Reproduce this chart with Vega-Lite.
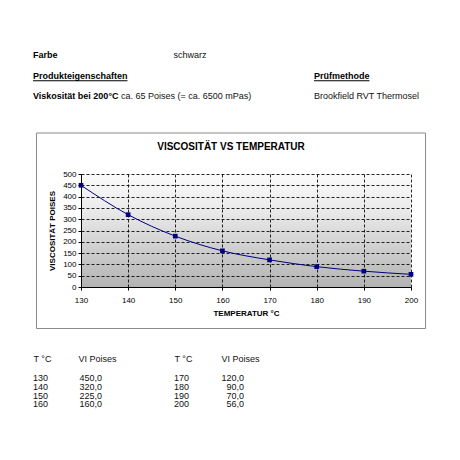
{
  "$schema": "https://vega.github.io/schema/vega-lite/v6.json",
  "background": "white",
  "padding": {"left": 32, "top": 45, "right": 5, "bottom": 5},
  "spacing": 25,
  "align": "none",
  "datasets": {
    "visko": [
      {"t": 130, "vi": 450},
      {"t": 140, "vi": 320},
      {"t": 150, "vi": 225},
      {"t": 160, "vi": 160},
      {"t": 170, "vi": 120},
      {"t": 180, "vi": 90},
      {"t": 190, "vi": 70},
      {"t": 200, "vi": 56}
    ]
  },
  "vconcat": [
    {
      "width": 330,
      "height": 61.5,
      "view": {"stroke": null},
      "encoding": {
        "x": {"field": "spalte", "type": "quantitative", "scale": {"domain": [0, 2], "range": [-48, 233]}, "axis": null},
        "y": {"field": "zeile", "type": "ordinal", "scale": {"type": "point", "domain": [1, 2, 3], "padding": 0.5}, "axis": null}
      },
      "layer": [
        {
          "data": {"values": [
            {"zeile": 1, "spalte": 0, "text": "Farbe"},
            {"zeile": 2, "spalte": 0, "text": "Produkteigenschaften"},
            {"zeile": 2, "spalte": 2, "text": "Prüfmethode"},
            {"zeile": 3, "spalte": 0, "text": "Viskosität bei 200°C"}
          ]},
          "mark": {"type": "text", "align": "left", "baseline": "middle", "fontSize": 9, "fontWeight": "bold", "color": "#000"},
          "encoding": {"text": {"field": "text"}}
        },
        {
          "data": {"values": [
            {"zeile": 1, "spalte": 1, "text": "schwarz"},
            {"zeile": 3, "spalte": 2, "text": "Brookfield RVT Thermosel"}
          ]},
          "mark": {"type": "text", "align": "left", "baseline": "middle", "fontSize": 9, "color": "#111"},
          "encoding": {"text": {"field": "text"}}
        },
        {
          "data": {"values": [
            {"zeile": 3, "spalte": 0, "text": "ca. 65 Poises (= ca. 6500 mPas)"}
          ]},
          "mark": {"type": "text", "align": "left", "baseline": "middle", "fontSize": 9, "color": "#111", "dx": 88},
          "encoding": {"text": {"field": "text"}}
        },
        {
          "data": {"values": [{"zeile": 2, "spalte": 0}]},
          "mark": {"type": "rule", "color": "#000", "strokeWidth": 1, "x2Offset": 94.5, "yOffset": 5},
          "encoding": {"x2": {"field": "spalte"}}
        },
        {
          "data": {"values": [{"zeile": 2, "spalte": 2}]},
          "mark": {"type": "rule", "color": "#000", "strokeWidth": 1, "x2Offset": 55.5, "yOffset": 5},
          "encoding": {"x2": {"field": "spalte"}}
        }
      ]
    },
    {
      "width": 330,
      "height": 113,
      "view": {
        "stroke": null,
        "fill": {
          "gradient": "linear",
          "x1": 0, "y1": 0, "x2": 0, "y2": 1,
          "stops": [
            {"offset": 0, "color": "#fafafa"},
            {"offset": 0.3, "color": "#ececec"},
            {"offset": 1, "color": "#b3b3b3"}
          ]
        }
      },
      "title": {
        "text": "VISCOSITÄT VS TEMPERATUR",
        "fontSize": 10,
        "fontWeight": "bold",
        "color": "#000",
        "anchor": "middle",
        "frame": "bounds",
        "baseline": "middle",
        "offset": -24
      },
      "data": {"name": "visko"},
      "encoding": {
        "x": {
          "field": "t",
          "type": "quantitative",
          "scale": {"domain": [130, 200], "nice": false, "zero": false},
          "axis": {
            "values": [130, 140, 150, 160, 170, 180, 190, 200],
            "format": "d",
            "title": "TEMPERATUR °C",
            "labelFlush": false,
            "labelPadding": 6,
            "titlePadding": 5
          }
        },
        "y": {
          "field": "vi",
          "type": "quantitative",
          "scale": {"domain": [0, 500], "nice": false},
          "axis": {
            "values": [0, 50, 100, 150, 200, 250, 300, 350, 400, 450, 500],
            "format": "d",
            "title": "VISCOSITÄT POISES",
            "labelPadding": 2,
            "titlePadding": 6
          }
        }
      },
      "layer": [
        {
          "transform": [{"filter": "datum.t == 130"}],
          "mark": {"type": "rect", "fill": "transparent", "stroke": "#8a8a8a", "strokeWidth": 1, "clip": false},
          "encoding": {
            "x": {"datum": 120.56, "type": "quantitative"},
            "x2": {"datum": 203.08, "type": "quantitative"},
            "y": {"datum": 681.4, "type": "quantitative"},
            "y2": {"datum": -183.6, "type": "quantitative"}
          }
        },
        {
          "mark": {"type": "line", "color": "#000080", "strokeWidth": 1, "interpolate": "monotone"}
        },
        {
          "mark": {"type": "square", "color": "#000080", "filled": true, "opacity": 1, "size": 22}
        }
      ]
    },
    {
      "hconcat": [
        {
          "width": 93,
          "height": 34.8,
          "data": {"name": "visko"},
          "transform": [{"filter": "datum.t <= 160"}],
          "encoding": {
            "y": {"field": "t", "type": "ordinal", "scale": {"type": "point", "padding": 0.5}, "axis": null}
          },
          "layer": [
            {
              "mark": {"type": "text", "align": "left", "baseline": "middle", "fontSize": 9, "color": "#111"},
              "encoding": {
                "x": {
                  "datum": "T °C",
                  "type": "nominal",
                  "scale": {"type": "point", "domain": ["T °C", "VI Poises"], "range": [-48, -3], "padding": 0},
                  "axis": {
                    "orient": "top", "title": null, "ticks": false, "tickSize": 0, "domain": false, "grid": false,
                    "labelAlign": "left", "labelBaseline": "middle", "labelPadding": 15.3,
                    "labelFontSize": 9, "labelAngle": 0, "labelOverlap": false, "labelColor": "#111"
                  }
                },
                "text": {"field": "t", "type": "quantitative", "format": "d"}
              }
            },
            {
              "mark": {"type": "text", "align": "right", "baseline": "middle", "fontSize": 9, "color": "#111", "dx": 24},
              "encoding": {
                "x": {"datum": "VI Poises", "type": "nominal"},
                "text": {"field": "vi", "type": "quantitative", "format": ".1f"}
              }
            }
          ]
        },
        {
          "width": 47,
          "height": 34.8,
          "data": {"name": "visko"},
          "transform": [{"filter": "datum.t >= 170"}],
          "encoding": {
            "y": {"field": "t", "type": "ordinal", "scale": {"type": "point", "padding": 0.5}, "axis": null}
          },
          "layer": [
            {
              "mark": {"type": "text", "align": "left", "baseline": "middle", "fontSize": 9, "color": "#111"},
              "encoding": {
                "x": {
                  "datum": "T °C",
                  "type": "nominal",
                  "scale": {"type": "point", "domain": ["T °C", "VI Poises"], "range": [0, 47], "padding": 0},
                  "axis": {
                    "orient": "top", "title": null, "ticks": false, "tickSize": 0, "domain": false, "grid": false,
                    "labelAlign": "left", "labelBaseline": "middle", "labelPadding": 15.3,
                    "labelFontSize": 9, "labelAngle": 0, "labelOverlap": false, "labelColor": "#111"
                  }
                },
                "text": {"field": "t", "type": "quantitative", "format": "d"}
              }
            },
            {
              "mark": {"type": "text", "align": "right", "baseline": "middle", "fontSize": 9, "color": "#111", "dx": 23},
              "encoding": {
                "x": {"datum": "VI Poises", "type": "nominal"},
                "text": {"field": "vi", "type": "quantitative", "format": ".1f"}
              }
            }
          ]
        }
      ],
      "spacing": 0,
      "bounds": "flush"
    }
  ],
  "config": {
    "font": "Liberation Sans",
    "view": {"stroke": null},
    "locale": {
      "number": {"decimal": ",", "thousands": ".", "grouping": [3], "currency": ["", " €"]}
    },
    "axis": {
      "labelFontSize": 8,
      "labelColor": "#000",
      "titleFontSize": 8,
      "titleFontWeight": "bold",
      "titleColor": "#000",
      "domainColor": "#000",
      "domainWidth": 1,
      "tickColor": "#000",
      "tickSize": 3,
      "gridColor": "#000",
      "gridDash": [3, 2],
      "gridOpacity": 0.85,
      "gridWidth": 1
    }
  }
}
